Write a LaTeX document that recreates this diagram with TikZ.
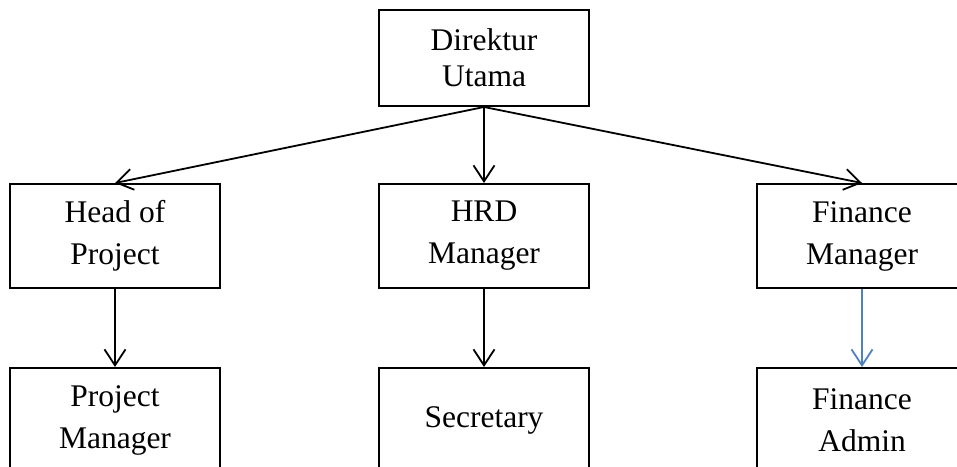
\documentclass[tikz,border=0pt]{standalone}
\usepackage{fontspec}
\setmainfont{Liberation Serif}
\usetikzlibrary{arrows.meta,positioning}
\definecolor{linkblue}{HTML}{4F81BD}

\begin{document}
\begin{tikzpicture}[
  x=1pt, y=1pt,
  node distance=76pt and 157pt,
  box/.style={draw, line width=2pt, minimum width=210pt,
              minimum height=104pt, inner sep=0pt, align=center,
              font=\fontsize{31.5}{42}\selectfont},
  arr/.style={-{Straight Barb[length=16pt, width=21pt]}, line width=1.8pt},
]
\useasboundingbox (0,0) rectangle (957,-466);
\clip (0,0) rectangle (957,-466);

\node[box, minimum height=96pt, font=\fontsize{31.5}{36}\selectfont]
  (dir) at (484,-58) {Direktur\\Utama};
\node[box] (hrd) [below=of dir]            {HRD\\Manager};
\node[box] (hop) [left=157pt of hrd]       {Head of\\Project};
\node[box] (fin) [right=166pt of hrd]      {Finance\\Manager};
\node[box] (pm)  [below=78pt of hop]       {Project\\Manager};
\node[box] (sec) [below=78pt of hrd]       {Secretary};
\node[box] (adm) [below=78pt of fin]       {Finance\\Admin};

\draw[arr] (dir.south) -- (hop.north);
\draw[arr] (dir.south) -- (hrd.north);
\draw[arr] (dir.south) -- (fin.north);
\draw[arr] (hop) -- (pm);
\draw[arr] (hrd) -- (sec);
\draw[arr, linkblue] (fin) -- (adm);
\end{tikzpicture}
\end{document}
